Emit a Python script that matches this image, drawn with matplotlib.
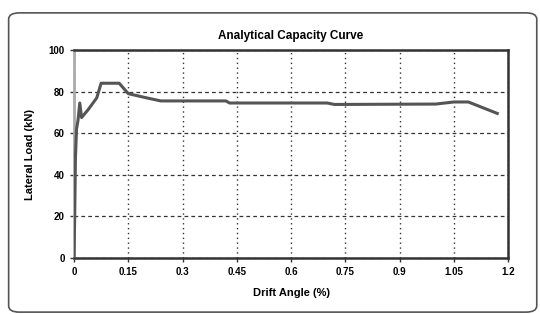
import matplotlib.pyplot as plt
from matplotlib.patches import FancyBboxPatch

# capacity curve
drift = [0.0, 0.002, 0.004, 0.007, 0.011, 0.016, 0.021, 0.04, 0.063, 0.075,
         0.125, 0.15, 0.2, 0.24, 0.42, 0.43, 0.70, 0.72, 1.0, 1.05, 1.09, 1.17]
load = [0.0, 20.0, 48.0, 62.0, 66.0, 74.5, 67.5, 71.5, 77.0, 84.0,
        84.0, 79.0, 77.0, 75.5, 75.5, 74.5, 74.5, 73.8, 74.0, 75.0, 75.0, 69.5]
x_ticks = [0, 0.15, 0.3, 0.45, 0.6, 0.75, 0.9, 1.05, 1.2]
x_labels = ["0", "0.15", "0.3", "0.45", "0.6", "0.75", "0.9", "1.05", "1.2"]
y_ticks = [0, 20, 40, 60, 80, 100]

plt.rcParams["font.family"] = ["Liberation Sans", "DejaVu Sans"]

fig = plt.figure(figsize=(5.4, 3.14), dpi=100)
fig.patches.append(FancyBboxPatch((0.016, 0.006), 0.978, 0.953,
                                  boxstyle="round,pad=0,rounding_size=0.02",
                                  transform=fig.transFigure, fill=False,
                                  edgecolor="#555555", lw=1.2))
ax = fig.add_axes([0.137, 0.178, 0.804, 0.663])

ax.plot(drift, load, color="#555555", lw=2.2, zorder=3)

ax.set_xlim(0, 1.2)
ax.set_ylim(0, 100)
ax.set_xticks(x_ticks, x_labels)
ax.set_yticks(y_ticks)
ax.tick_params(labelsize=7, length=3, width=1, color="#333333")
for lab in ax.get_xticklabels() + ax.get_yticklabels():
    lab.set_fontweight("bold")

ax.yaxis.grid(True, linestyle=(0, (3, 2.5)), color="#333333", lw=0.9)
ax.xaxis.grid(True, linestyle=(0, (1, 2.5)), color="#333333", lw=1.0)
ax.set_axisbelow(True)

for side in ("top", "right", "bottom"):
    ax.spines[side].set_color("#333333")
    ax.spines[side].set_linewidth(1.8)
ax.spines["left"].set_color("#aaaaaa")
ax.spines["left"].set_linewidth(2.0)

ax.set_title("Analytical Capacity Curve", fontsize=8.5, fontweight="bold", pad=8)
ax.set_xlabel("Drift Angle (%)", fontsize=8, fontweight="bold", labelpad=8)
ax.set_ylabel("Lateral Load (kN)", fontsize=8, fontweight="bold", labelpad=10)

fig.savefig("out.png", dpi=100)
